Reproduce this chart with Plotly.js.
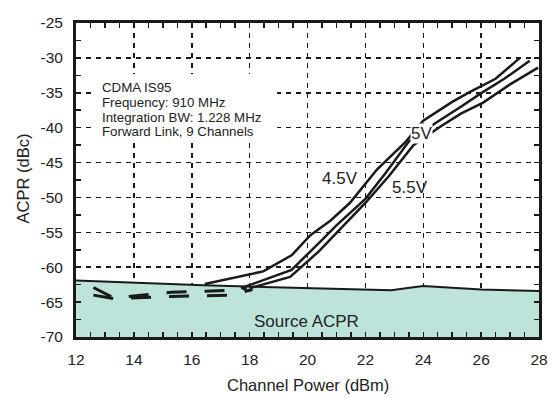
<!DOCTYPE html>
<html>
<head>
<meta charset="utf-8">
<script src="https://cdn.plot.ly/plotly-3.0.1.min.js"></script>
<style>html,body{margin:0;padding:0;background:#fff;}#chart{width:553px;height:398px;}</style>
</head>
<body>
<div id="chart"></div>
<script>
// Source ACPR floor
const srcX = [12, 14, 16.4, 19.5, 22.9, 23.4, 24.0, 26, 28];
const srcY = [-61.9, -62.2, -62.6, -62.95, -63.3, -63.0, -62.7, -63.2, -63.4];

// 4.5 V curve
const v45X = [16.45, 18.47, 19.45, 20.1, 20.8, 21.46, 22.4, 23.4, 24.0, 25.0, 25.6, 26.5, 27.34];
const v45Y = [-62.4, -60.6, -58.3, -55.4, -53.3, -50.8, -46.0, -42.0, -39.0, -36.3, -34.9, -33.0, -30.0];

// 5 V curve
const v50X = [17.7, 19.45, 20.4, 21.0, 22.0, 22.7, 23.5, 24.4, 25.3, 25.95, 26.8, 27.68];
const v50Y = [-63.0, -60.4, -56.5, -54.0, -50.2, -46.5, -42.0, -39.4, -37.0, -35.2, -33.0, -30.4];

// 5.5 V curve
const v55X = [18.0, 19.4, 20.4, 21.2, 22.04, 22.8, 23.66, 24.57, 25.3, 26.07, 27.0, 27.97];
const v55Y = [-63.0, -61.4, -57.7, -54.2, -50.6, -47.0, -42.5, -39.9, -38.0, -36.4, -33.8, -31.4];

// hidden (below source floor) portions, drawn dashed
const low50X = [12.6, 13.3, 15.3, 17.3, 17.9];
const low50Y = [-62.9, -64.4, -63.6, -63.3, -63.0];
const low55X = [12.6, 13.3, 15.3, 17.3, 18.1];
const low55Y = [-64.0, -64.5, -64.2, -64.0, -63.2];

const xRange = [12, 28];
const yRange = [-70, -25];
const xTicks = [12, 14, 16, 18, 20, 22, 24, 26, 28];
const xTickText = ['12', '14', '16', '18', '20', '22', '24', '26', '28'];
const yTicks = [-70, -65, -60, -55, -50, -45, -40, -35, -30, -25];
const yTickText = ['-70', '-65', '-60', '-55', '-50', '-45', '-40', '-35', '-30', '-25'];

const infoText = ["CDMA IS95", "Frequency: 910 MHz", "Integration BW: 1.228 MHz", "Forward Link, 9 Channels"];
const infoY = [-34.3, -36.45, -38.6, -40.55];

const black = '#1a1a1a';
const traces = [
  {x: xRange, y: [yRange[0], yRange[0]], mode: 'lines', line: {width: 0, color: 'rgba(0,0,0,0)'}, hoverinfo: 'skip', showlegend: false},
  {x: srcX, y: srcY, mode: 'lines', fill: 'tonexty', fillcolor: '#bde3db', line: {color: black, width: 2}, showlegend: false},
  {x: low50X, y: low50Y, mode: 'lines', line: {color: black, width: 3, dash: '20px,18px'}, showlegend: false},
  {x: low55X, y: low55Y, mode: 'lines', line: {color: black, width: 3, dash: '20px,18px'}, showlegend: false},
  {x: v45X, y: v45Y, mode: 'lines', line: {color: black, width: 2.5}, showlegend: false},
  {x: v50X, y: v50Y, mode: 'lines', line: {color: black, width: 2.5}, showlegend: false},
  {x: v55X, y: v55Y, mode: 'lines', line: {color: black, width: 2.5}, showlegend: false}
];

const fam = 'Liberation Sans, Arial, sans-serif';
const tickFont = {family: fam, size: 15.5, color: '#222'};
const titleFont = {family: fam, size: 16.5, color: '#222'};
const labelFont = {family: fam, size: 17, color: '#222'};
const infoFont = {family: fam, size: 13.3, color: '#222'};

const axisCommon = {
  showline: true, linewidth: 3, linecolor: black, mirror: 'ticks',
  showgrid: true, gridcolor: black, gridwidth: 1.5, griddash: '5px,5px',
  ticks: 'inside', ticklen: 5, tickwidth: 1.5, tickcolor: black,
  zeroline: false, tickfont: tickFont, tickmode: 'array', automargin: false,
  minor: {ticks: 'inside', ticklen: 5, tickwidth: 1.5, tickcolor: black, showgrid: false}
};

const annotations = infoText.map((t, i) => ({
  x: 12.84, y: infoY[i], xref: 'x', yref: 'y', xanchor: 'left', yanchor: 'middle',
  text: t, showarrow: false, font: infoFont
}));
annotations.push(
  {x: 21.12, y: -47.3, xref: 'x', yref: 'y', text: '4.5V', showarrow: false, font: labelFont},
  {x: 23.95, y: -40.8, xref: 'x', yref: 'y', text: '5V', showarrow: false, font: labelFont, bgcolor: '#fff', borderpad: 0},
  {x: 23.54, y: -48.6, xref: 'x', yref: 'y', text: '5.5V', showarrow: false, font: labelFont},
  {x: 19.96, y: -67.8, xref: 'x', yref: 'y', text: 'Source ACPR', showarrow: false, font: labelFont},
  {x: 0.501, y: -0.153, xref: 'paper', yref: 'paper', xanchor: 'center', yanchor: 'middle',
   text: 'Channel Power (dBm)', showarrow: false, font: titleFont},
  {x: -0.1145, y: 0.505, xref: 'paper', yref: 'paper', xanchor: 'center', yanchor: 'middle', textangle: -90,
   text: 'ACPR (dBc)', showarrow: false, font: titleFont}
);

const layout = {
  width: 553, height: 398,
  margin: {l: 76, r: 14, t: 23, b: 61},
  paper_bgcolor: '#fff', plot_bgcolor: '#fff',
  font: tickFont,
  xaxis: Object.assign({}, axisCommon, {
    range: xRange, tickvals: xTicks, ticktext: xTickText, ticklabelstandoff: 6,
    minor: Object.assign({}, axisCommon.minor, {tickmode: 'linear', tick0: 12, dtick: 0.5})
  }),
  yaxis: Object.assign({}, axisCommon, {
    range: yRange, tickvals: yTicks, ticktext: yTickText, ticklabelstandoff: 7,
    minor: Object.assign({}, axisCommon.minor, {tickmode: 'linear', tick0: -70, dtick: 2.5})
  }),
  shapes: [
    {type: 'rect', layer: 'between', xref: 'x', yref: 'y', x0: 12.6, x1: 18.95, y0: -41.6, y1: -32.3,
     fillcolor: '#fff', line: {width: 0}}
  ],
  annotations: annotations
};

Plotly.newPlot('chart', traces, layout, {displayModeBar: false, staticPlot: true});
</script>
</body>
</html>
